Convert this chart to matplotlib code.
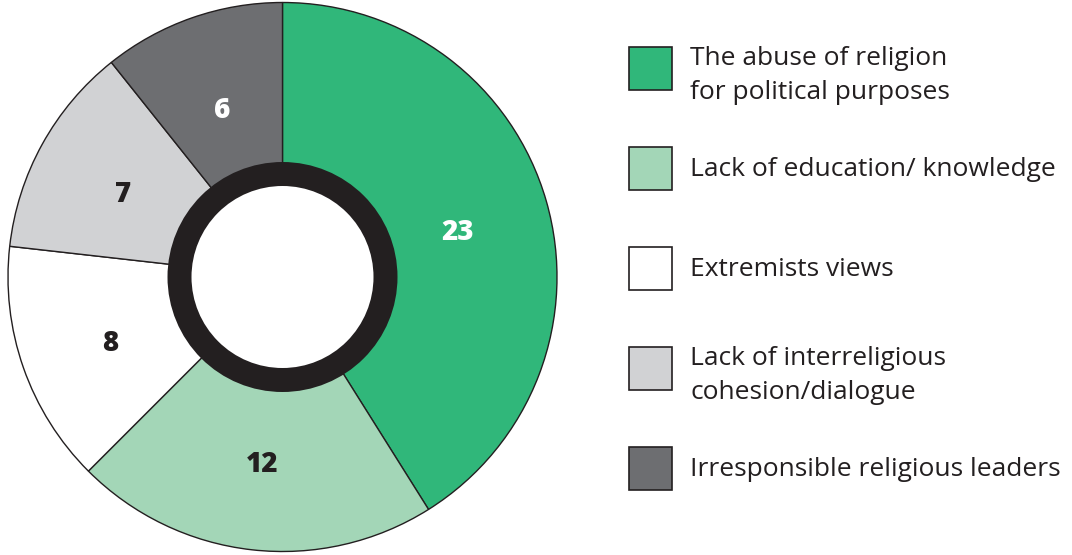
import matplotlib.pyplot as plt
from matplotlib.patches import Circle, Rectangle

plt.switch_backend("Agg")

# data
categories = [
    "The abuse of religion\nfor political purposes",
    "Lack of education/ knowledge",
    "Extremists views",
    "Lack of interreligious\ncohesion/dialogue",
    "Irresponsible religious leaders",
]
values = [23, 12, 8, 7, 6]
colors = ["#30b77a", "#a3d6b7", "#ffffff", "#d1d2d4", "#6d6e71"]
label_colors = ["white", "#231f20", "#231f20", "#231f20", "white"]

W, H = 1072, 555
fig = plt.figure(figsize=(W / 100, H / 100), dpi=100)
ax = fig.add_axes([0, 0, 1, 1])

cx, cy, r = 282.5, 278, 274.5
wedges, _, autotexts = ax.pie(
    values,
    colors=colors,
    startangle=90,
    counterclock=False,
    center=(cx, cy),
    radius=r,
    autopct=lambda p: f"{round(p * sum(values) / 100)}",
    pctdistance=0.665,
    wedgeprops=dict(edgecolor="#231f20", linewidth=1.0),
    frame=True,
)
ax.set_xlim(0, W)
ax.set_ylim(0, H)
ax.set_aspect("equal")
ax.axis("off")
for t, c in zip(autotexts, label_colors):
    t.set_color(c)
    t.set_fontsize(20)
    t.set_fontweight(800)
    t.set_family("Open Sans")
    # the reference numbers sit a little below the wedge mid-angle
    x, y = t.get_position()
    t.set_position((x, y - 6))

# inner ring
ax.add_patch(Circle((cx, cy), 115, facecolor="#231f20", edgecolor="none", zorder=5))
ax.add_patch(Circle((cx, cy), 91, facecolor="white", edgecolor="none", zorder=6))

# legend
for i, (lab, w) in enumerate(zip(categories, wedges)):
    ytop = H - (47 + 100 * i)
    ax.add_patch(Rectangle((629, ytop - 43), 43, 43, facecolor=w.get_facecolor(),
                           edgecolor="#231f20", linewidth=1.2))
    multi = "\n" in lab
    ax.text(690, ytop + 1 if multi else ytop - 22, lab,
            va="top" if multi else "center", ha="left",
            fontsize=19, color="#231f20", family="Open Sans", linespacing=1.45)

fig.savefig("out.png", dpi=100)
plt.close(fig)
